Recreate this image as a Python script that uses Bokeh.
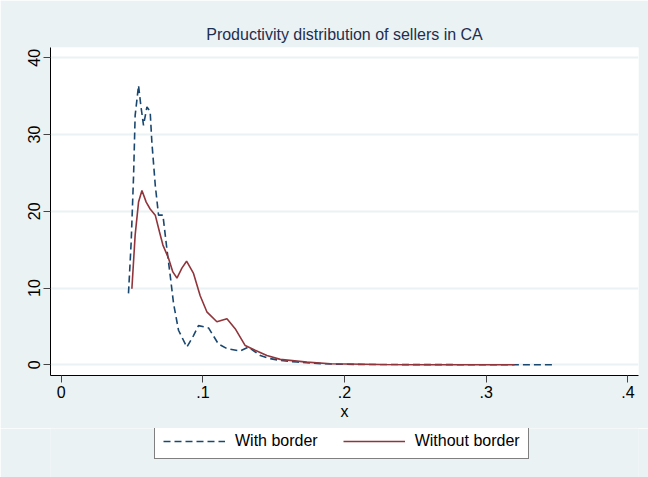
from bokeh.plotting import figure
from bokeh.layouts import column
from bokeh.models import Range1d, FixedTicker, Legend, LegendItem
from bokeh.embed import file_html
from bokeh.resources import INLINE

# ---- data ----
with_x = [0.0475, 0.0494, 0.0511, 0.0522, 0.0546, 0.0562, 0.0581, 0.0605, 0.0628,
          0.0640, 0.0664, 0.0687, 0.0718, 0.0746, 0.0769, 0.0793, 0.0828, 0.0887,
          0.0934, 0.0969, 0.1040, 0.1110, 0.1170, 0.1264, 0.1322, 0.1405, 0.1475,
          0.1546, 0.1664, 0.185, 0.20, 0.22, 0.25, 0.28, 0.31, 0.3464]
with_y = [9.3, 16.0, 24.7, 32.5, 36.4, 33.8, 31.2, 33.6, 33.0,
          29.0, 23.4, 19.5, 19.5, 15.1, 11.7, 8.0, 4.5, 2.3,
          3.8, 5.1, 4.8, 2.7, 2.1, 1.8, 2.3, 1.2, 0.8,
          0.56, 0.35, 0.13, 0.06, 0.03, 0.02, 0.01, 0.01, 0.0]

without_x = [0.0499, 0.0522, 0.0546, 0.0570, 0.0600, 0.0628, 0.0664, 0.0694, 0.0718,
             0.0757, 0.0788, 0.0817, 0.0852, 0.0885, 0.0934, 0.0981, 0.1028, 0.1099,
             0.1170, 0.1228, 0.1299, 0.1369, 0.1452, 0.1546, 0.1734, 0.19, 0.225,
             0.26, 0.29, 0.32]
without_y = [9.9, 16.9, 21.2, 22.7, 21.2, 20.3, 19.5, 17.3, 15.6,
             13.9, 12.1, 11.3, 12.6, 13.5, 11.9, 9.0, 6.9, 5.6,
             6.0, 4.7, 2.5, 1.9, 1.2, 0.7, 0.34, 0.13, 0.03,
             0.01, 0.01, 0.0]

x_ticks = [0, 0.1, 0.2, 0.3, 0.4]
x_tick_labels = ["0", ".1", ".2", ".3", ".4"]
y_ticks = [0, 10, 20, 30, 40]

series_labels = ["With border", "Without border"]
title_text = "Productivity distribution of sellers in CA"
x_label = "x"

BG = "#eaf2f3"
BLUE = "#1a476f"
RED = "#90353b"
FONT = "Liberation Sans"
DASH = "7 4"

p = figure(width=648, height=428, output_backend="svg", toolbar_location=None,
           x_range=Range1d(-0.00755, 0.4075), y_range=Range1d(-1.4, 41.35),
           min_border_left=50, min_border_right=10, min_border_top=47,
           min_border_bottom=53,
           background_fill_color="white", border_fill_color=BG,
           outline_line_color=None)

p.title.text = title_text
p.title.align = "center"
p.title.text_font = FONT
p.title.text_font_size = "16px"
p.title.text_font_style = "normal"
p.title.text_color = "#1e2e4e"

p.line(with_x, with_y, line_color=BLUE, line_width=1.6, line_dash=DASH)
p.line(without_x, without_y, line_color=RED, line_width=1.6)

p.xaxis.ticker = FixedTicker(ticks=x_ticks)
p.xaxis.major_label_overrides = {t: l for t, l in zip(x_ticks, x_tick_labels)}
p.yaxis.ticker = FixedTicker(ticks=y_ticks)
p.yaxis.major_label_orientation = "vertical"
p.xaxis.axis_label = x_label

for ax in (p.xaxis[0], p.yaxis[0]):
    ax.axis_line_color = "black"
    ax.axis_line_width = 1
    ax.major_tick_out = 7
    ax.major_tick_in = 0
    ax.major_tick_line_color = "#444444"
    ax.minor_tick_out = 0
    ax.minor_tick_in = 0
    ax.major_label_text_font = FONT
    ax.major_label_text_font_size = "16px"
    ax.major_label_text_color = "black"
    ax.major_label_standoff = 3
    ax.axis_label_text_font = FONT
    ax.axis_label_text_font_size = "16px"
    ax.axis_label_text_font_style = "normal"
    ax.axis_label_text_color = "black"
    ax.axis_label_standoff = 2

p.xgrid.visible = False
p.ygrid.grid_line_color = BG
p.ygrid.grid_line_width = 2

# legend strip below the chart (same series, drawn off-range so only the legend shows)
lg = figure(width=648, height=49, output_backend="svg", toolbar_location=None,
            x_range=Range1d(10, 11), y_range=Range1d(10, 11),
            x_axis_location=None, y_axis_location=None,
            min_border_left=0, min_border_right=0, min_border_top=0, min_border_bottom=0,
            background_fill_color=BG, border_fill_color=BG, outline_line_color=None)
lg.xgrid.visible = False
lg.ygrid.visible = False
l1 = lg.line(with_x, with_y, line_color=BLUE, line_width=1.6, line_dash=DASH)
l2 = lg.line(without_x, without_y, line_color=RED, line_width=1.6)

legend = Legend(items=[LegendItem(label=series_labels[0], renderers=[l1]),
                       LegendItem(label=series_labels[1], renderers=[l2])],
                orientation="horizontal", location=(104, 18),
                border_line_color="black", border_line_width=1,
                background_fill_color="white", background_fill_alpha=1,
                label_text_font=FONT, label_text_font_size="16px",
                label_text_color="black",
                glyph_width=62, glyph_height=18, label_standoff=10,
                spacing=25, padding=8, margin=0)
lg.add_layout(legend, "center")

layout = column(p, lg, spacing=0)
open("out.html", "w").write(file_html(layout, INLINE))
